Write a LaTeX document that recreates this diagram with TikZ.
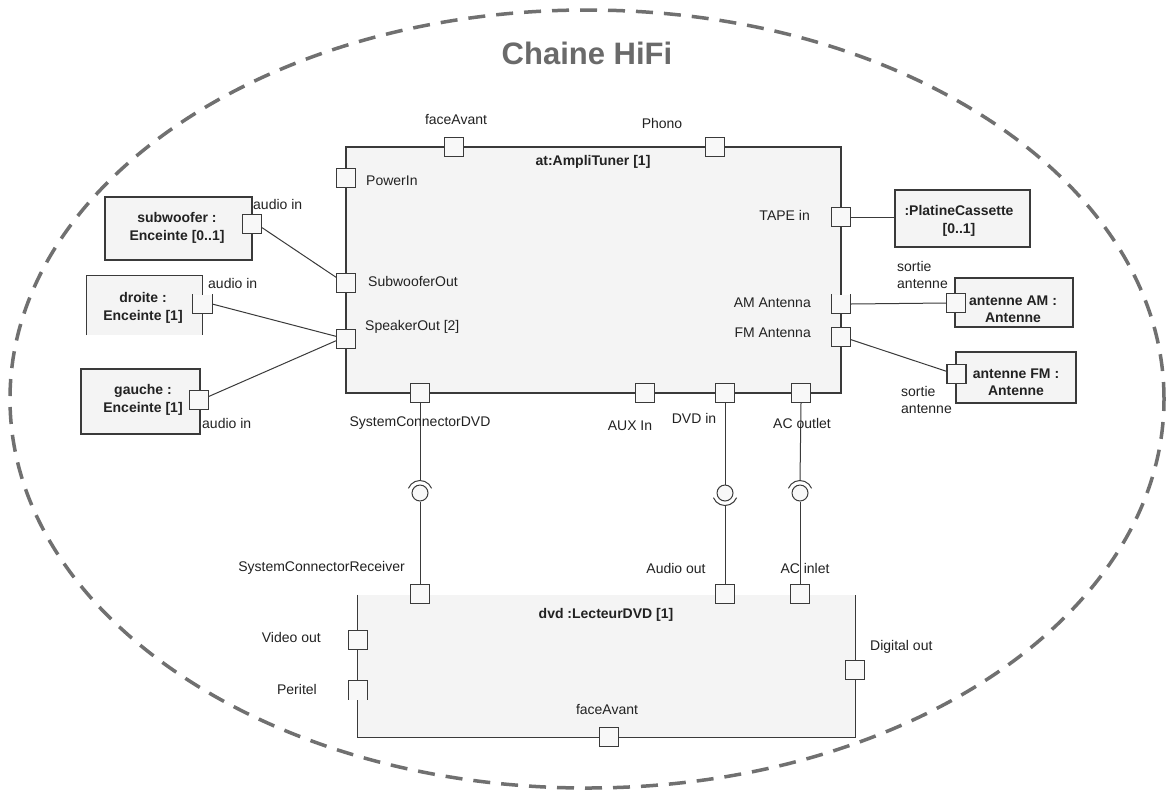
\documentclass[tikz,border=0pt]{standalone}
\usepackage{fontspec}
\setmainfont{Liberation Sans}
\definecolor{linec}{HTML}{3A3A3A}
\definecolor{boxfill}{HTML}{F4F4F4}
\definecolor{portfill}{HTML}{F8F8F8}
\definecolor{textc}{HTML}{222222}
\definecolor{framec}{HTML}{707070}
\definecolor{titlec}{HTML}{6A6A6A}
\begin{document}
\begin{tikzpicture}[x=1pt,y=-1pt,
  box/.style={draw=linec, fill=boxfill, line width=1.2pt, inner sep=0pt},
  boxbg/.style={fill=boxfill, draw=none, inner sep=0pt},
  boxline/.style={draw=linec, line width=1.2pt},
  port/.style={draw=linec, fill=portfill, line width=1.1pt, minimum size=19pt, inner sep=0pt},
  portbg/.style={fill=portfill, draw=none, minimum size=19pt, inner sep=0pt},
  portline/.style={draw=linec, line width=1.1pt},
  ball/.style={circle, draw=linec, fill=portfill, line width=1pt, minimum size=16pt, inner sep=0pt},
  wire/.style={draw=linec, line width=1pt},
  lbl/.style={font=\fontsize{14}{16.5}\selectfont, text=textc, inner sep=0pt},
  blbl/.style={font=\bfseries\fontsize{14}{17.5}\selectfont, text=textc, align=center, inner sep=0pt},
  frame/.style={draw=framec, line width=3.5pt, dash pattern=on 17pt off 11pt},
]
\fill[white] (0,0) rectangle (1172,796);
\useasboundingbox (0,0) rectangle (1172,796);

% outer frame
\draw[frame] (587,399) ellipse [x radius=577pt, y radius=389pt];
\node[font=\bfseries\fontsize{31}{36}\selectfont, text=titlec, inner sep=0pt] (title) at (587,53) {Chaine HiFi};

% ---------- boxes ----------
\node[box, minimum width=495pt, minimum height=246pt] (amp) at (593.5,270) {};
\node[blbl] (ampt) at (593,162) {at:AmpliTuner [1]};

\node[boxbg, minimum width=497pt, minimum height=142pt] (dvd) at (606.5,666) {};
\draw[boxline] (dvd.north west) -- (dvd.south west) -- (dvd.south east) -- (dvd.north east);
\node[blbl] (dvdt) at (606,615) {dvd :LecteurDVD [1]};

\node[box, minimum width=147pt, minimum height=63pt] (sub) at (178.5,228.5) {};
\node[blbl] (subt) at (177,228) {subwoofer :\\{}Enceinte [0..1]};

\node[boxbg, minimum width=115pt, minimum height=59pt] (dro) at (144.5,305.5) {};
\draw[boxline] (dro.south west) -- (dro.north west) -- (dro.north east) -- (dro.south east);
\node[blbl] (drot) at (143,308) {droite :\\{}Enceinte [1]};

\node[box, minimum width=119pt, minimum height=65pt] (gau) at (140.5,401.5) {};
\node[blbl] (gaut) at (143,400) {gauche :\\{}Enceinte [1]};

\node[box, minimum width=135pt, minimum height=57pt] (cass) at (962.5,218.5) {};
\node[blbl] (casst) at (959,221) {:PlatineCassette\\{}[0..1]};

\node[box, minimum width=118pt, minimum height=49pt] (amb) at (1014,302.5) {};
\node[blbl] (ambt) at (1013,309) {antenne AM :\\{}Antenne};

\node[box, minimum width=120pt, minimum height=51pt] (fmb) at (1016,377.5) {};
\node[blbl] (fmbt) at (1016,382) {antenne FM :\\{}Antenne};

% ---------- ball and socket coordinates ----------
\coordinate (s1) at (420,481);
\coordinate (s2) at (725,505);
\coordinate (s3) at (800,481);

% ---------- ports ----------
\node[port] (pFace) at (454,147) {};
\node[port] (pPhono) at (715,147) {};
\node[port] (pPower) at (346,178) {};
\node[port] (pSubOut) at (346,283) {};
\node[port] (pSpk) at (346,339) {};
\node[port] (pTape) at (841,217) {};
\node[portbg] (pAM) at (841,304) {};
\draw[portline] (pAM.north west) -- (pAM.south west) -- (pAM.south east) -- (pAM.north east);
\node[port] (pFM) at (841,337) {};
\node[port] (pSys) at (420,393) {};
\node[port] (pAux) at (645,393) {};
\node[port] (pDvdIn) at (725,393) {};
\node[port] (pAC) at (801,393) {};

\node[port] (pRecv) at (420,594) {};
\node[port] (pAudio) at (725,594) {};
\node[port] (pACin) at (800,594) {};
\node[port] (pVideo) at (358,640) {};
\node[portbg] (pPer) at (358,690) {};
\draw[portline] (pPer.south west) -- (pPer.north west) -- (pPer.north east) -- (pPer.south east);
\node[port] (pDigital) at (855,670) {};
\node[port] (pFaceD) at (609,737) {};

\node[port] (subP) at (252,224) {};
\node[portbg] (droP) at (202.5,304) {};
\draw[portline] (droP.north west) -- (droP.south west) -- (droP.south east) -- (droP.north east);
\node[port] (gauP) at (199,400) {};
\node[port] (amP) at (956,303) {};
\node[port] (fmP) at (956.5,374) {};

% ---------- balls ----------
\node[ball] (b1) at (420,493) {};
\node[ball] (b2) at (725,493) {};
\node[ball] (b3) at (800,493) {};
\draw[wire] (b1.center) ++(158:12.5pt) arc[start angle=158, end angle=22, radius=12.5pt];
\draw[wire] (b2.center) ++(202:12.5pt) arc[start angle=202, end angle=338, radius=12.5pt];
\draw[wire] (b3.center) ++(158:12.5pt) arc[start angle=158, end angle=22, radius=12.5pt];

% ---------- connectors ----------
\draw[wire] (subP.-20) -- (pSubOut.150);
\draw[wire] (droP.east) -- (pSpk.165);
\draw[wire] (gauP.20) -- (pSpk.190);
\draw[wire] (pTape.east) -- (pTape.east -| cass.west);
\draw[wire] (pAM.east) -- (amP.west);
\draw[wire] (pFM.-15) -- (fmP.165);
\draw[wire] (pSys.south) -- (s1);
\draw[wire] (b1.south) -- (pRecv.north);
\draw[wire] (pDvdIn.south) -- (b2.north);
\draw[wire] (s2) -- (pAudio.north);
\draw[wire] (pAC.south) -- (s3);
\draw[wire] (b3.south) -- (pACin.north);

% ---------- labels ----------
\node[lbl] (lFace) at (456,119) {faceAvant};
\node[lbl] (lPhono) at (662,123) {Phono};
\node[lbl, anchor=west] (lPower) at (366,181) {PowerIn};
\node[lbl, anchor=west] (lSubOut) at (368,281) {SubwooferOut};
\node[lbl, anchor=west] (lSpk) at (365,327) {SpeakerOut [2]};
\node[lbl, anchor=east] (lTape) at (810,215) {TAPE in};
\node[lbl, anchor=east] (lAM) at (811,303) {AM Antenna};
\node[lbl, anchor=east] (lFM) at (811,333) {FM Antenna};
\node[lbl] (lSys) at (420,423) {SystemConnectorDVD};
\node[lbl] (lAux) at (630,426) {AUX In};
\node[lbl] (lDvdIn) at (694,418) {DVD in};
\node[lbl] (lAC) at (802,423) {AC outlet};

\node[lbl, anchor=east] (lRecv) at (405,568) {SystemConnectorReceiver};
\node[lbl] (lAudio) at (676,568) {Audio out};
\node[lbl] (lACin) at (805,568) {AC inlet};
\node[lbl, anchor=east] (lVideo) at (321,637) {Video out};
\node[lbl, anchor=east] (lPer) at (317,689) {Peritel};
\node[lbl, anchor=west] (lDigital) at (870,647) {Digital out};
\node[lbl] (lFaceD) at (607,709) {faceAvant};

\node[lbl, anchor=west] (lSubP) at (253,204) {audio in};
\node[lbl, anchor=west] (lDroP) at (208,283) {audio in};
\node[lbl, anchor=west] (lGauP) at (202,423) {audio in};
\node[lbl, anchor=west, align=left] (lAmP) at (897,275) {sortie\\antenne};
\node[lbl, anchor=west, align=left] (lFmP) at (901,400) {sortie\\antenne};
\end{tikzpicture}
\end{document}
